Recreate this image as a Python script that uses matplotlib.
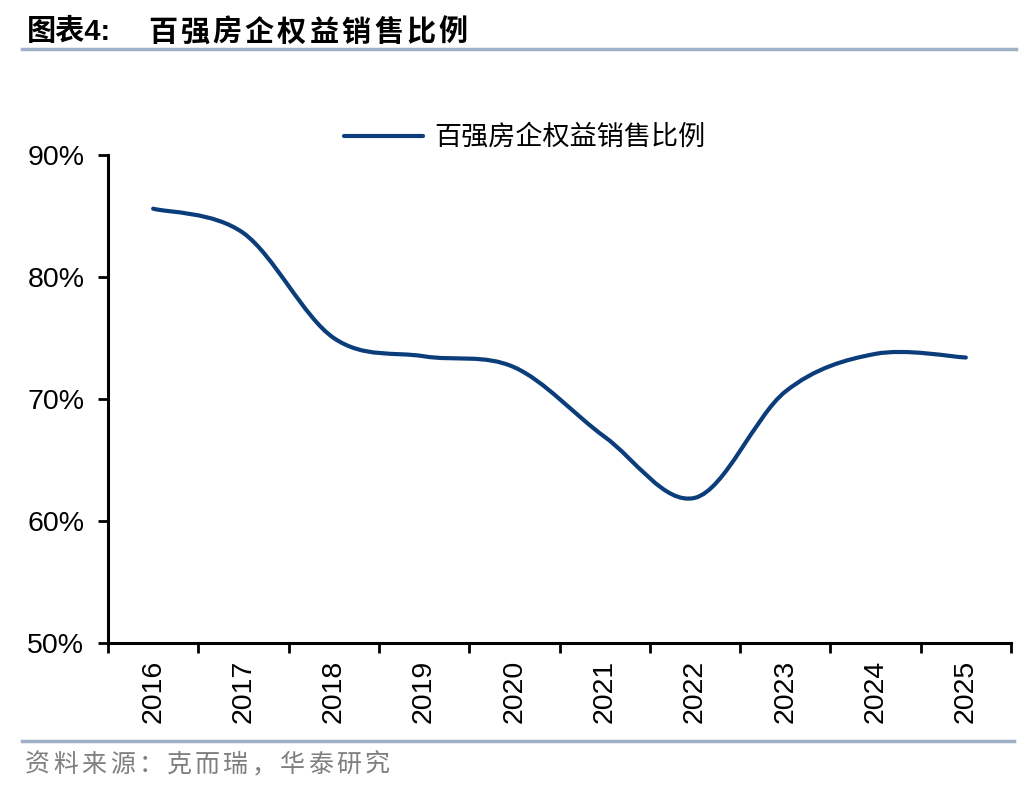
import numpy as np
import matplotlib
matplotlib.use("Agg")
import matplotlib.pyplot as plt
from matplotlib.path import Path
from matplotlib.patches import PathPatch
from matplotlib.lines import Line2D
from matplotlib.ticker import FuncFormatter

plt.rcParams['font.family'] = ['Liberation Sans', 'Noto Sans CJK SC']

# -------------------------
# datos
# -------------------------
anios = ['2016', '2017', '2018', '2019', '2020', '2021', '2022', '2023', '2024', '2025']
ratio = [85.6, 83.6, 75.0, 73.5, 72.6, 66.9, 61.9, 70.6, 73.7, 73.4]
serie = '百强房企权益销售比例'
titulo_num = '图表4:'
titulo = '百强房企权益销售比例'
fuente = '资料来源：克而瑞，华泰研究'

AZUL = '#0a3d7a'
GRIS_LINEA = '#9fb1c6'


def path_suave(xs, ys):
    """Curva suavizada tipo Excel (Bezier cubica, Catmull-Rom)."""
    pts = np.column_stack([xs, ys]).astype(float)
    n = len(pts)
    verts = [pts[0]]
    codes = [Path.MOVETO]
    for i in range(n - 1):
        p0 = pts[i - 1] if i > 0 else pts[i]
        p1 = pts[i]
        p2 = pts[i + 1]
        p3 = pts[i + 2] if i + 2 < n else pts[i + 1]
        c1 = p1 + (p2 - p0) / 6.0
        c2 = p2 - (p3 - p1) / 6.0
        verts += [c1, c2, p2]
        codes += [Path.CURVE4] * 3
    return Path(verts, codes)


def texto_espaciado(fig, x0, y, s, paso, **kw):
    for k, ch in enumerate(s):
        fig.text((x0 + k * paso) / 1036, 1 - y / 792, ch, va='center', ha='left', **kw)


fig = plt.figure(figsize=(10.36, 7.92), dpi=100)
ax = fig.add_axes([108 / 1036, 1 - 643 / 792, (1011 - 108) / 1036, (643 - 155) / 792])

x = np.arange(len(anios))
patch = PathPatch(path_suave(x, ratio), facecolor='none', edgecolor=AZUL,
                  linewidth=3.0, capstyle='round', joinstyle='round')
ax.add_patch(patch)

ax.set_xlim(-0.5, len(anios) - 0.5)
ax.set_ylim(50, 90)
ax.set_yticks([50, 60, 70, 80, 90])
ax.yaxis.set_major_formatter(FuncFormatter(lambda v, p: f'{v:.0f}%'))

# ticks en los bordes de categoria, etiquetas en el centro
ax.set_xticks(np.arange(-0.5, len(anios), 1.0))
ax.set_xticklabels([])
ax.set_xticks(x, minor=True)
ax.set_xticklabels(anios, minor=True, rotation=90, fontsize=20.5)
ax.tick_params(axis='x', which='minor', length=0, pad=12)
ax.tick_params(axis='x', which='major', length=7, width=2, direction='out')
ax.tick_params(axis='y', length=7, width=2, direction='out', labelsize=20.5, pad=10)

for lado in ['top', 'right']:
    ax.spines[lado].set_visible(False)
for lado in ['left', 'bottom']:
    ax.spines[lado].set_linewidth(2.2)
    ax.spines[lado].set_color('black')

# leyenda
h = Line2D([0], [0], color=AZUL, linewidth=3.0, solid_capstyle='round')
ax.legend([h], [serie], loc='center', bbox_to_anchor=(525 / 1036, 1 - 138 / 792),
          bbox_transform=fig.transFigure, frameon=False, fontsize=19.5,
          handlelength=2.9, handletextpad=0.45, borderpad=0)

# titulo
fig.text(27 / 1036, 1 - 32 / 792, titulo_num, fontsize=21, fontweight='bold',
         va='center', ha='left')
texto_espaciado(fig, 148, 32, titulo, 32.3, fontsize=21, fontweight='bold',
                family=['Noto Sans CJK SC'])
fig.add_artist(Line2D([22 / 1036, 1016 / 1036], [1 - 49 / 792, 1 - 49 / 792],
                      color=GRIS_LINEA, linewidth=2.5))

# fuente
fig.add_artist(Line2D([22 / 1036, 1014 / 1036], [1 - 741 / 792, 1 - 741 / 792],
                      color=GRIS_LINEA, linewidth=2.5))
texto_espaciado(fig, 25, 765, fuente, 28.3, fontsize=18, color='#7f7f7f',
                family=['Noto Sans CJK SC'])

fig.savefig('out.png', dpi=100)
